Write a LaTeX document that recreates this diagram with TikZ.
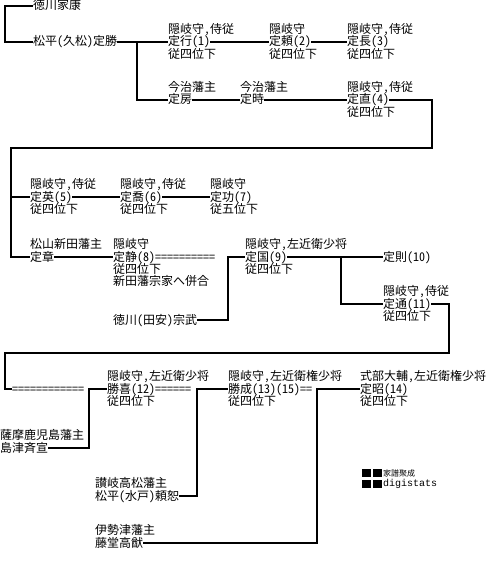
\documentclass[tikz,border=0pt]{standalone}
\usepackage{fontspec}
\setmainfont{Noto Sans CJK JP}[RawFeature={+hwid}]
\newfontfamily\logomono{Liberation Mono}
\usetikzlibrary{positioning}

\tikzset{
  nm/.style={anchor=west, inner sep=0pt, text height=10bp, text depth=2bp},
  ttl/.style={anchor=south west, inner sep=0pt, text height=10bp, text depth=2bp},
  rnk/.style={anchor=north west, inner sep=0pt, text height=10bp, text depth=2bp},
  up/.style={label={[ttl]north west:{#1}}},
  dn/.style={label={[rnk]south west:{#1}}},
  link/.style={line width=2bp, line join=miter},
}

\begin{document}
\begin{tikzpicture}[x=1bp, y=-1bp, font=\fontsize{12bp}{12bp}\selectfont]
    \useasboundingbox[fill=white] (0,0) rectangle (486,564);

    % first generations
    \node[nm] (ieyasu) at (33,6) {徳川家康};
    \node[nm] (katsu) at (33,42) {松平(久松)定勝};
    \node[nm, up={隠岐守,侍従}, dn={従四位下}] (yuki) at (168,42) {定行(1)};
    \node[nm, up={隠岐守}, dn={従四位下}] (yori) at (269,42) {定頼(2)};
    \node[nm, up={隠岐守,侍従}, dn={従四位下}] (naga) at (347,42) {定長(3)};
    \node[nm, up={今治藩主}] (fusa) at (168,100) {定房};
    \node[nm, up={今治藩主}] (toki) at (240,100) {定時};
    \node[nm, up={隠岐守,侍従}, dn={従四位下}] (nao) at (347,100) {定直(4)};

    % second row
    \node[nm, up={隠岐守,侍従}, dn={従四位下}] (hide) at (30,197) {定英(5)};
    \node[nm, up={隠岐守,侍従}, dn={従四位下}] (taka) at (120,197) {定喬(6)};
    \node[nm, up={隠岐守}, dn={従五位下}] (isa) at (210,197) {定功(7)};
    \node[nm, up={松山新田藩主}] (akira) at (30,257) {定章};
    \node[nm, up={隠岐守}, dn={従四位下},
          label={[rnk, yshift=-12bp]south west:新田藩宗家へ併合}] (kiyo) at (113,257) {定静(8)==========};
    \node[nm] (munetake) at (113,320) {徳川(田安)宗武};
    \node[nm, up={隠岐守,左近衛少将}, dn={従四位下}] (kuni) at (245,257) {定国(9)};
    \node[nm] (nori) at (383,257) {定則(10)};
    \node[nm, up={隠岐守,侍従}, dn={従四位下}] (michi) at (383,304) {定通(11)};

    % third row
    \node[nm] (eqs) at (12,389) {============};
    \node[nm, up={隠岐守,左近衛少将}, dn={従四位下}] (katsuyoshi) at (107,389) {勝喜(12)======};
    \node[nm, up={薩摩鹿児島藩主}] (narinobu) at (0,448) {島津斉宣};
    \node[nm, up={隠岐守,左近衛権少将}, dn={従四位下}] (katsushige) at (228,389) {勝成(13)(15)==};
    \node[nm, up={讃岐高松藩主}] (yorihiro) at (95,496) {松平(水戸)頼恕};
    \node[nm, up={式部大輔,左近衛権少将}, dn={従四位下}] (sadaaki) at (360,389) {定昭(14)};
    \node[nm, up={伊勢津藩主}] (takayuki) at (95,543) {藤堂高猷};

    % branch points
    \coordinate (b1) at (137,42);
    \coordinate (b2) at (432,148);
    \coordinate (b3) at (11,148);
    \coordinate (b4) at (228,257);
    \coordinate (b5) at (341,257);
    \coordinate (b6) at (449,353);
    \coordinate (b7) at (5,353);
    \coordinate (b8) at (89,389);
    \coordinate (b9) at (197,389);
    \coordinate (b10) at (317,389);

    % lines
    \draw[link] (ieyasu.west) -- ++(-28,0) |- (katsu.west);
    \draw[link] (katsu.east) -- (yuki.west);
    \draw[link] (b1) |- (fusa.west);
    \draw[link] (yuki.east) -- (yori.west);
    \draw[link] (yori.east) -- (naga.west);
    \draw[link] (fusa.east) -- (toki.west);
    \draw[link] (toki.east) -- (nao.west);
    \draw[link] (nao.east) -| (b2) -- (b3) |- (hide.west);
    \draw[link] (b3) |- (akira.west);
    \draw[link] (hide.east) -- (taka.west);
    \draw[link] (taka.east) -- (isa.west);
    \draw[link] (akira.east) -- (kiyo.west);
    \draw[link] (munetake.east) -| (b4) |- (kuni.west);
    \draw[link] (kuni.east) -- (nori.west);
    \draw[link] (b5) |- (michi.west);
    \draw[link] (michi.east) -| (b6) -- (b7) |- (eqs.west);
    \draw[link] (narinobu.east) -| (b8) |- (katsuyoshi.west);
    \draw[link] (yorihiro.east) -| (b9) |- (katsushige.west);
    \draw[link] (takayuki.east) -| (b10) |- (sadaaki.west);

    % logo
    \fill (362,469) rectangle (371,477);
    \fill (373,469) rectangle (382,477);
    \fill (362,480) rectangle (371,488);
    \fill (373,480) rectangle (382,488);
    \node[anchor=west, inner sep=0pt, font=\fontsize{8bp}{8bp}\selectfont] (logo) at (383,473) {家譜聚成};
    \node[anchor=west, inner sep=0pt, font=\logomono\fontsize{10bp}{10bp}\selectfont] (logotxt) at (383,484) {digistats};
\end{tikzpicture}
\end{document}
